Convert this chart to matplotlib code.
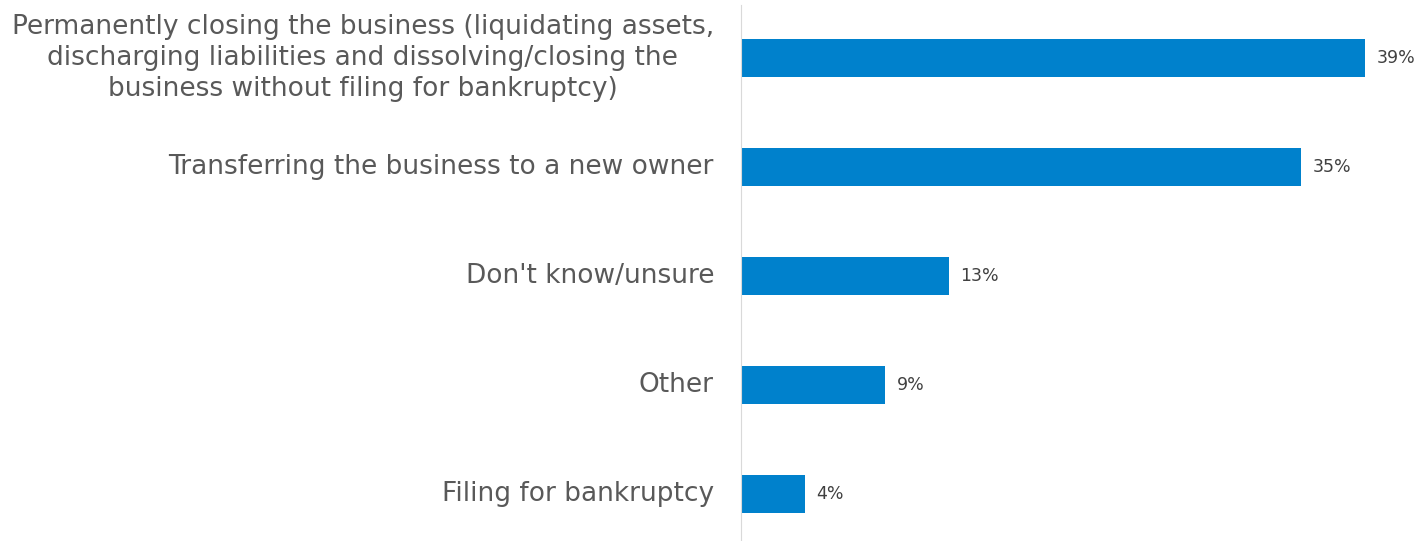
import matplotlib.pyplot as plt

categories = [
    "Permanently closing the business (liquidating assets,\n"
    "discharging liabilities and dissolving/closing the\n"
    "business without filing for bankruptcy)",
    "Transferring the business to a new owner",
    "Don't know/unsure",
    "Other",
    "Filing for bankruptcy",
]
values = [39, 35, 13, 9, 4]
value_labels = ["39%", "35%", "13%", "9%", "4%"]

W, H = 1417, 541
fig = plt.figure(figsize=(W / 100, H / 100), dpi=100)
# axes from the vertical line (x=741px) to the right edge
ax = fig.add_axes([741 / W, 0, 1 - 741 / W, 1 - 5 / H])

pos = list(range(len(values)))
ax.barh(pos, values, height=0.35, color="#0081CC")
ax.set_xlim(0, (W - 741) / 16)
ax.set_ylim((H - 58) / 109, -53 / 109)

for y, v, lab in zip(pos, values, value_labels):
    ax.text(v + 0.72, y, lab, va="center", ha="left", fontsize=12.5, color="#404040")

for y, lab in zip(pos, categories):
    ax.text(-27 / 16, y, lab, va="center", ha="right", multialignment="center",
            fontsize=19, color="#595959", linespacing=1.25)

for s in ["top", "right", "bottom"]:
    ax.spines[s].set_visible(False)
ax.spines["left"].set_color("#D9D9D9")
ax.set_xticks([])
ax.set_yticks([])

fig.savefig("out.png", dpi=100)
